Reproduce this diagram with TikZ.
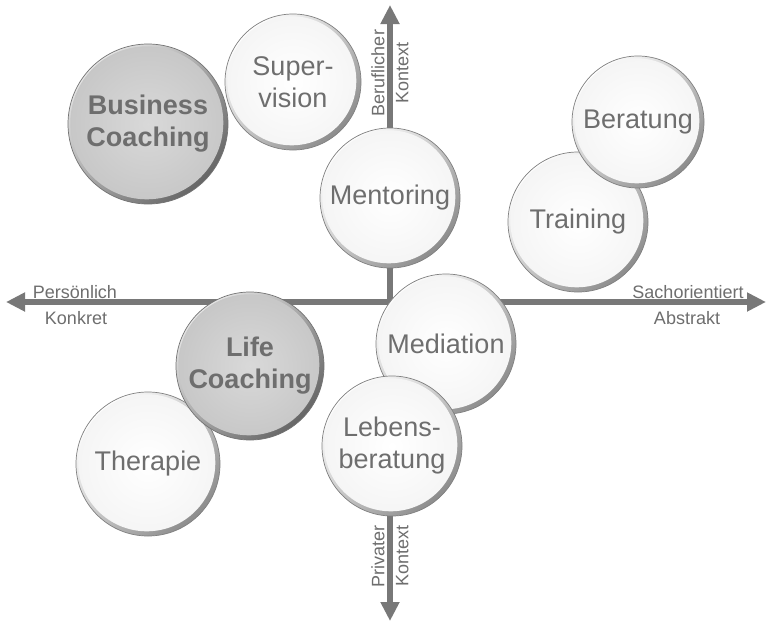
\documentclass[tikz,border=0pt]{standalone}
\usepackage{fontspec}
\setmainfont{Liberation Sans}
\usetikzlibrary{arrows.meta}
\definecolor{txt}{HTML}{6E6E6E}
\definecolor{axc}{HTML}{787878}
\begin{document}
\begin{tikzpicture}[x=1pt,y=-1pt,
  ball/.style={circle, inner sep=0pt, minimum size={2*#1pt}, align=center,
    draw=black!50, line width=0.7pt, top color=white, bottom color=black!45,
    shading angle=45, text=txt, font=\fontsize{27}{32}\selectfont,
    path picture={\shade[inner color=white, outer color=black!4]
      ([shift={(-1.2pt,1.2pt)}]path picture bounding box.center) circle[radius={#1pt-3.5pt}];}},
  gball/.style={circle, inner sep=0pt, minimum size={2*#1pt}, align=center,
    draw=black!55, line width=0.7pt, top color=black!10, bottom color=black!60,
    shading angle=45, text=txt, font=\fontsize{27}{32}\selectfont\bfseries,
    path picture={\shade[inner color=black!15, outer color=black!22]
      ([shift={(-1.2pt,1.2pt)}]path picture bounding box.center) circle[radius={#1pt-3.5pt}];}},
  axis/.style={draw=axc, line width=6.5pt,
    {Triangle[length=19pt,width=18pt]}-{Triangle[length=19pt,width=18pt]}},
  lab/.style={text=txt, font=\fontsize{18}{24}\selectfont, inner sep=0pt, align=center}
]
\useasboundingbox[fill=white] (0,0) rectangle (768,624);
% axes
\coordinate (L) at (6,302);
\coordinate (R) at (766,302);
\coordinate (T) at (390,5);
\coordinate (B) at (390,621);
\draw[axis] (L) -- (R);
\draw[axis] (T) -- (B);
% axis labels
\node[lab] (pers) at (75,292) {Persönlich};
\node[lab] (konk) at (76,318) {Konkret};
\node[lab] (sach) at (688,292) {Sachorientiert};
\node[lab] (abst) at (687,318) {Abstrakt};
\node[lab, rotate=90] (beru) at (390,73) {Beruflicher\\Kontext};
\node[lab, rotate=90] (priv) at (390,556) {Privater\\Kontext};
% circles
\node[ball=68] (sup) at (293,82) {Super-\\vision};
\node[gball=80] (bus) at (148,124) {Business\\Coaching};
\node[ball=70] (tra) at (578,222) {Training};
\node[ball=66] (ber) at (638,122) {Beratung};
\node[ball=70] (men) at (390,198) {Mentoring};
\node[ball=70] (med) at (446,344) {Mediation};
\node[ball=70] (leb) at (392,446) {Lebens-\\beratung};
\node[ball=72] (the) at (148,464) {Therapie};
\node[gball=74] (lif) at (250,366) {Life\\Coaching};
\end{tikzpicture}
\end{document}
